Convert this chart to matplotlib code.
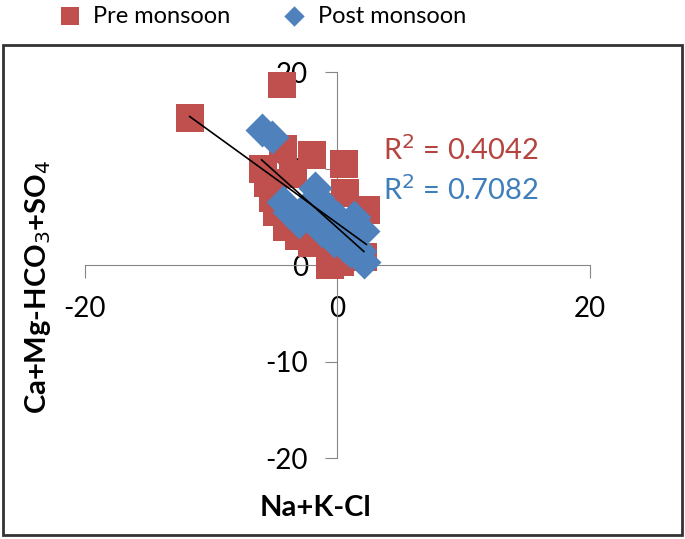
import matplotlib.pyplot as plt
import numpy as np
from matplotlib.patches import Rectangle

# values (several red points sit under the blue ones)
pre_x = [-11.7, -4.4, -2.0, 0.5, 0.6, 2.3, -5.9, -5.5, -5.1, -4.8,
         -4.3, -4.0, -3.0, -2.0, -0.6, 0.2, 1.0, -3.5,
         1.8, 1.2, 0.8, -0.5, -1.5, 2.0, 0.0]
pre_y = [15.3, 18.8, 11.4, 10.5, 7.5, 5.7, 10.0, 8.5, 7.0, 5.5,
         12.0, 4.0, 3.0, 2.3, 0.0, 0.3, 4.0, 9.5,
         0.8, 1.5, 2.5, 4.5, 6.0, 0.9, 2.6]
post_x = [-6.0, -5.2, -4.3, -3.8, -3.0, -2.5, -2.0, -1.8, -1.5, -1.2, -1.0,
          -0.5, 0.0, 0.3, 0.5, 1.0, 1.3, 1.5, 1.8, 2.0, 2.1, 1.0, -0.3]
post_y = [14.0, 13.3, 6.5, 5.5, 4.5, 6.0, 5.0, 8.0, 7.0, 3.5, 6.0,
          4.0, 5.0, 3.0, 2.0, 4.0, 5.0, 3.0, 1.5, 3.5, 0.3, 1.5, 2.5]
r2_pre = "0.4042"
r2_post = "0.7082"

red = "#C0504D"
blue = "#4F81BD"
plt.rcParams["font.family"] = ["Lato", "DejaVu Sans"]
plt.rcParams["axes.unicode_minus"] = False

fig = plt.figure(figsize=(6.85, 5.39), dpi=100)
ax = fig.add_axes([0.124, 0.15, 0.737, 0.716])

ax.scatter(pre_x, pre_y, marker="s", s=430, color=red, label="Pre monsoon",
           zorder=3, linewidths=0)
ax.scatter(post_x, post_y, marker="D", s=300, color=blue, label="Post monsoon",
           zorder=4, linewidths=0)

# linear trend lines
for xs, ys in [(pre_x, pre_y), (post_x, post_y)]:
    k, b = np.polyfit(xs, ys, 1)
    xx = np.array([min(xs), max(xs)])
    ax.plot(xx, k * xx + b, color="black", lw=1.2, zorder=5)

ax.set_xlim(-20, 20)
ax.set_ylim(-20, 20)
ax.set_xticks([-20, 0, 20])
ax.set_yticks([-20, -10, 0, 10, 20])
for s in ["top", "right"]:
    ax.spines[s].set_visible(False)
ax.spines["left"].set_position(("data", 0))
ax.spines["bottom"].set_position(("data", 0))
for s in ["left", "bottom"]:
    ax.spines[s].set_color("#868686")
    ax.spines[s].set_zorder(2)
ax.tick_params(direction="out", length=9, color="#868686", labelsize=20)
ax.tick_params(axis="x", pad=13)
ax.tick_params(axis="y", pad=12)

ax.text(3.6, 11.9, "R$^2$ = " + r2_pre, color="#B5443F", fontsize=21,
        va="center")
ax.text(3.6, 7.8, "R$^2$ = " + r2_post, color="#3F7EBA", fontsize=21,
        va="center")

fig.text(0.46, 0.057, "Na+K-Cl", fontsize=21, fontweight="bold",
         ha="center", va="center")
fig.text(0.055, 0.467, "Ca+Mg-HCO$_3$+SO$_4$", fontsize=21, fontweight="bold",
         rotation=90, ha="center", va="center")

fig.legend(loc="center left", bbox_to_anchor=(0.064, 0.97), ncol=2,
           frameon=False, markerscale=0.6, handletextpad=0.4,
           columnspacing=2.1, handlelength=1.2, borderpad=0, fontsize=17)

fig.patches.append(Rectangle((0.004, 0.008), 0.992, 0.909,
                             transform=fig.transFigure, fill=False,
                             edgecolor="#333333", lw=2))

plt.savefig("out.png", dpi=100)
